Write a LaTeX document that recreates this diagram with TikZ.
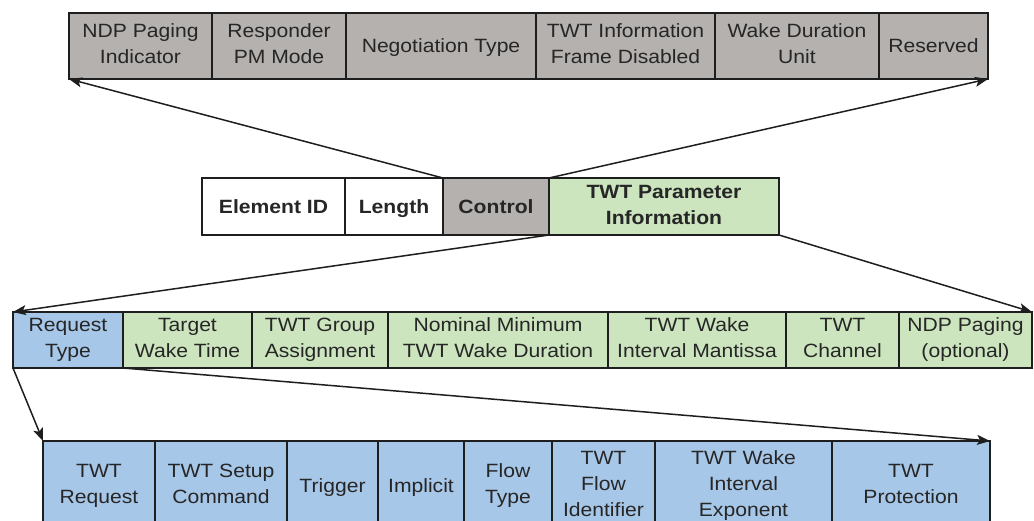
\documentclass[tikz,border=0pt]{standalone}
\usepackage{fontspec}
\setmainfont[FakeStretch=1.1]{Liberation Sans}
\usetikzlibrary{arrows.meta}
\definecolor{cgray}{RGB}{180,177,175}
\definecolor{cgreen}{RGB}{204,229,191}
\definecolor{cblue}{RGB}{167,199,232}
\definecolor{cline}{RGB}{30,30,30}
\tikzset{
  cell/.style={draw=cline, line width=1.4pt, inner sep=0pt, outer sep=0pt, align=center,
    font=\fontsize{19.2}{26}\selectfont, text=black!85,
    execute at begin node={\rule{0pt}{18pt}},
    execute at end node={\rule[-4.2pt]{0pt}{4.2pt}}},
  grayc/.style={cell, fill=cgray},
  greenc/.style={cell, fill=cgreen},
  bluec/.style={cell, fill=cblue},
  whitec/.style={cell, fill=white},
  boldc/.style={font=\fontsize{19.2}{26}\selectfont\bfseries},
  arr/.style={draw=cline, line width=1.5pt, -{Stealth[length=13pt,width=10pt,inset=3pt]}},
}
\begin{document}
\begin{tikzpicture}[x=1pt,y=-1pt]
\useasboundingbox (0,0) rectangle (1034,521);
\clip (0,0) rectangle (1034,521);
% Row 1 (Control subfields)
\node[grayc, minimum width=143pt, minimum height=66pt] (a1) at (140.5,46) {NDP Paging\\Indicator};
\node[grayc, minimum width=134pt, minimum height=66pt] (a2) at (279,46) {Responder\\PM Mode};
\node[grayc, minimum width=190pt, minimum height=66pt] (a3) at (441,46) {Negotiation Type};
\node[grayc, minimum width=179pt, minimum height=66pt] (a4) at (625.5,46) {TWT Information\\Frame Disabled};
\node[grayc, minimum width=164pt, minimum height=66pt] (a5) at (797,46) {Wake Duration\\Unit};
\node[grayc, minimum width=109pt, minimum height=66pt] (a6) at (933.5,46) {Reserved};
% Row 2 (element)
\node[whitec, boldc, minimum width=143pt, minimum height=57pt] (b1) at (273.5,206.5) {Element ID};
\node[whitec, boldc, minimum width=98pt, minimum height=57pt] (b2) at (394,206.5) {Length};
\node[grayc, boldc, minimum width=106pt, minimum height=57pt] (b3) at (496,206.5) {Control};
\node[greenc, boldc, minimum width=230pt, minimum height=57pt] (b4) at (664,206.5) {TWT Parameter\\Information};
% Row 3 (TWT Parameter Information)
\node[bluec, minimum width=110pt, minimum height=56pt] (c1) at (68,340) {Request\\Type};
\node[greenc, minimum width=129pt, minimum height=56pt] (c2) at (187.5,340) {Target\\Wake Time};
\node[greenc, minimum width=136pt, minimum height=56pt] (c3) at (320,340) {TWT Group\\Assignment};
\node[greenc, minimum width=220pt, minimum height=56pt] (c4) at (498,340) {Nominal Minimum\\TWT Wake Duration};
\node[greenc, minimum width=178pt, minimum height=56pt] (c5) at (697,340) {TWT Wake\\Interval Mantissa};
\node[greenc, minimum width=113pt, minimum height=56pt] (c6) at (842.5,340) {TWT\\Channel};
\node[greenc, minimum width=133pt, minimum height=56pt] (c7) at (965.5,340) {NDP Paging\\(optional)};
% Row 4 (Request Type)
\node[bluec, minimum width=112pt, minimum height=89pt] (d1) at (99,485.5) {TWT\\Request};
\node[bluec, minimum width=132pt, minimum height=89pt] (d2) at (221,485.5) {TWT Setup\\Command};
\node[bluec, minimum width=91pt, minimum height=89pt] (d3) at (332.5,485.5) {Trigger};
\node[bluec, minimum width=86pt, minimum height=89pt] (d4) at (421,485.5) {Implicit};
\node[bluec, minimum width=88pt, minimum height=89pt] (d5) at (508,485.5) {Flow\\Type};
\node[bluec, minimum width=103pt, minimum height=89pt] (d6) at (603.5,485.5) {TWT\\Flow\\Identifier};
\node[bluec, minimum width=177pt, minimum height=89pt] (d7) at (743.5,485.5) {TWT Wake\\Interval\\Exponent};
\node[bluec, minimum width=158pt, minimum height=89pt] (d8) at (911,485.5) {TWT\\Protection};
% Connectors
\draw[arr] (b3.north west) -- (a1.south west);
\draw[arr] (b3.north east) -- (a6.south east);
\draw[arr] (b4.south west) -- (c1.north west);
\draw[arr] (b4.south east) -- (c7.north east);
\draw[arr] (c1.south west) -- (d1.north west);
\draw[arr] (c1.south east) -- (d8.north east);
\end{tikzpicture}
\end{document}
